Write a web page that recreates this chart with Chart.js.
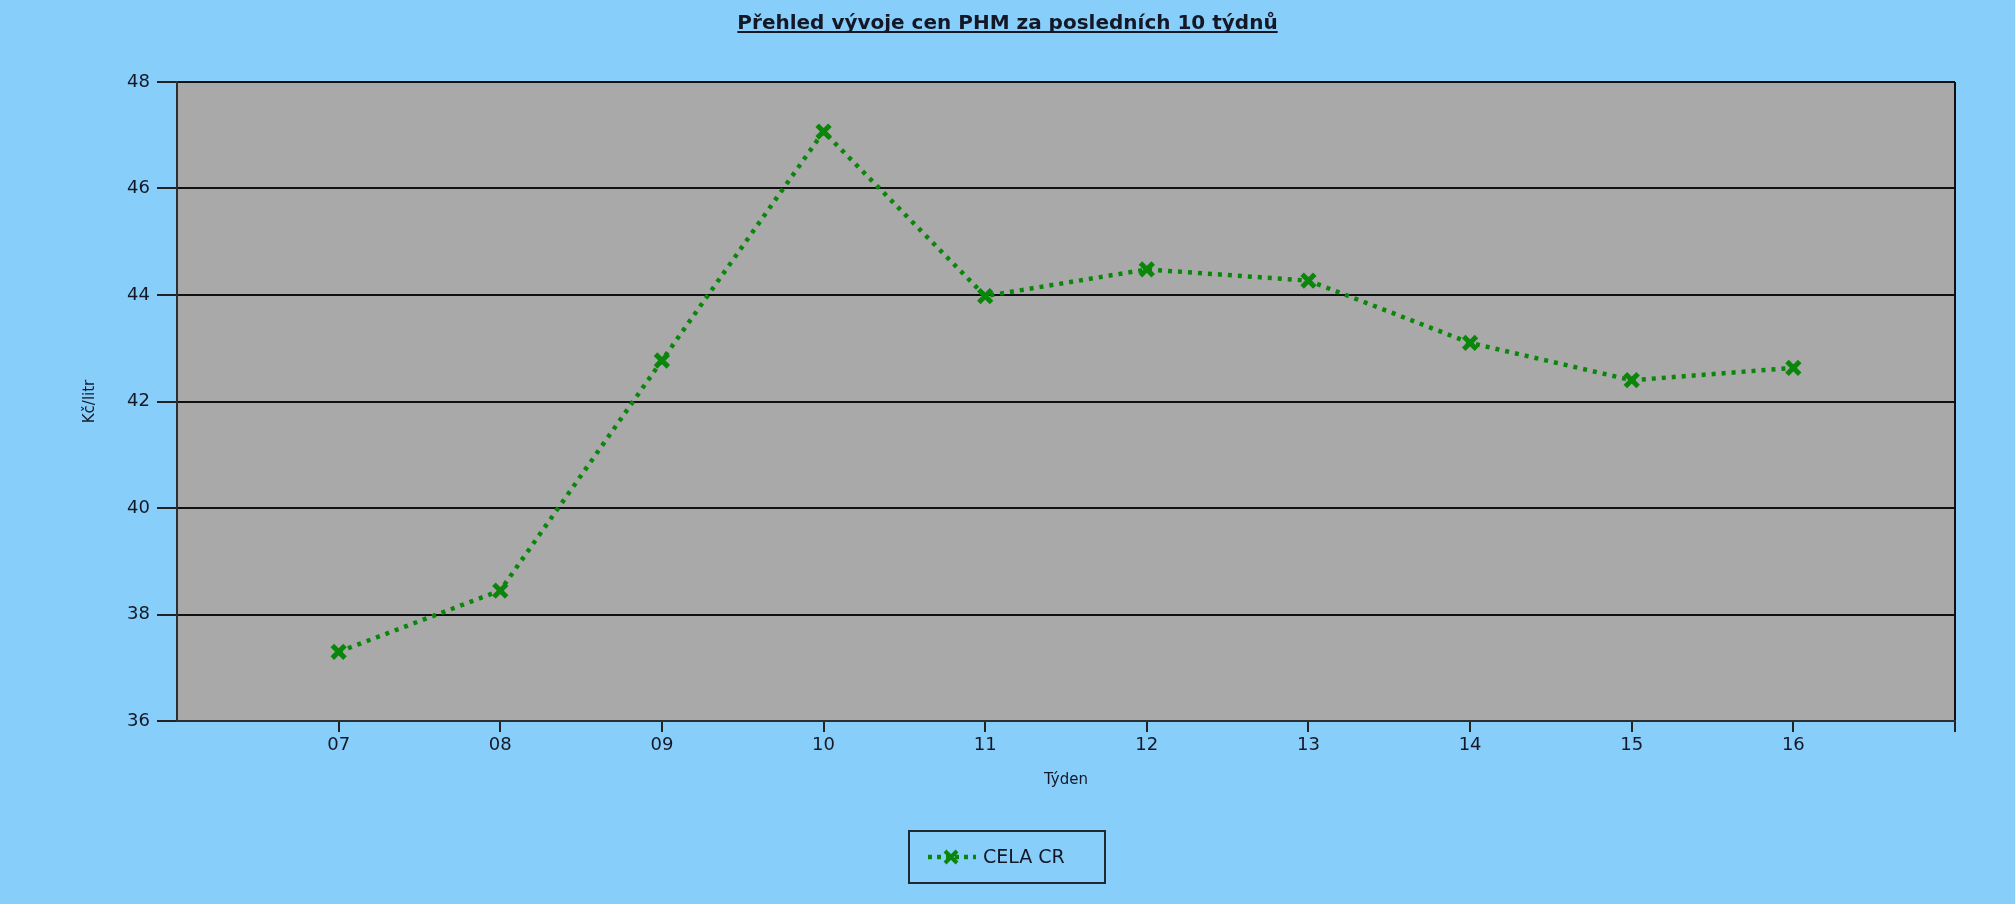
<!DOCTYPE html>
<html>
<head>
<meta charset="utf-8">
<script src="https://cdn.jsdelivr.net/npm/chart.js@4.4.1/dist/chart.umd.min.js"></script>
<style>
  html, body { margin: 0; padding: 0; background: #87cefa; }
  #wrap { width: 2015px; height: 904px; position: relative; }
</style>
</head>
<body>
<div id="wrap"><canvas id="fuelChart" width="2015" height="904"></canvas></div>
<script>
// weekly fuel prices, whole country
const chartTitle = "Přehled vývoje cen PHM za posledních 10 týdnů";
const weeks = ["07", "08", "09", "10", "11", "12", "13", "14", "15", "16"];
const prices = [37.30, 38.45, 42.77, 47.07, 43.98, 44.48, 44.27, 43.10, 42.40, 42.63];
const seriesName = "CELA CR";
const yTicks = [36, 38, 40, 42, 44, 46, 48];
const xLabel = "Týden";
const yLabel = "Kč/litr";

const GREEN = "#0a870a";
const TEXT = "#141826";
const FONT = "'DejaVu Sans', sans-serif";

const points = weeks.map(function (w, i) {
    return { x: Number(w), y: prices[i] };
});
const xMin = Number(weeks[0]) - 1;
const xMax = Number(weeks[weeks.length - 1]) + 1;

const decorPlugin = {
    id: "decor",
    beforeDraw: function (chart) {
        const ctx = chart.ctx;
        const a = chart.chartArea;
        ctx.save();
        ctx.fillStyle = "#a9a9a9";
        ctx.fillRect(a.left, a.top, a.right - a.left, a.bottom - a.top);
        ctx.restore();
    },
    afterDraw: function (chart) {
        const ctx = chart.ctx;
        const a = chart.chartArea;
        ctx.save();

        // title, bold + underlined
        ctx.fillStyle = TEXT;
        ctx.font = "bold 20px " + FONT;
        ctx.textAlign = "center";
        ctx.textBaseline = "alphabetic";
        const cx = chart.width / 2;
        ctx.fillText(chartTitle, cx, 29);
        const tw = ctx.measureText(chartTitle).width;
        ctx.fillRect(cx - tw / 2, 31, tw, 2);

        // axis titles
        ctx.font = "15px " + FONT;
        ctx.textBaseline = "middle";
        ctx.fillText(xLabel, (a.left + a.right) / 2, 780);
        ctx.save();
        ctx.translate(90, (a.top + a.bottom) / 2);
        ctx.rotate(-Math.PI / 2);
        ctx.fillText(yLabel, 0, 0);
        ctx.restore();

        // legend box
        const lx = 909, ly = 831, lw = 196, lh = 52;
        ctx.strokeStyle = "#1e2a33";
        ctx.lineWidth = 2;
        ctx.strokeRect(lx, ly, lw, lh);
        const my = ly + lh / 2;
        ctx.strokeStyle = GREEN;
        ctx.lineWidth = 4.5;
        ctx.setLineDash([4, 5]);
        ctx.beginPath();
        ctx.moveTo(928, my);
        ctx.lineTo(976, my);
        ctx.stroke();
        ctx.setLineDash([]);
        ctx.lineWidth = 4;
        const r = 6;
        ctx.beginPath();
        ctx.moveTo(951 - r, my - r); ctx.lineTo(951 + r, my + r);
        ctx.moveTo(951 - r, my + r); ctx.lineTo(951 + r, my - r);
        ctx.stroke();
        ctx.fillStyle = TEXT;
        ctx.font = "19px " + FONT;
        ctx.textAlign = "left";
        ctx.fillText(seriesName, 983, my + 1);

        ctx.restore();
    }
};

const ctx = document.getElementById("fuelChart").getContext("2d");
const chart = new Chart(ctx, {
    type: "line",
    data: {
        datasets: [{
            label: seriesName,
            data: points,
            borderColor: GREEN,
            borderWidth: 4.5,
            borderDash: [4, 6],
            borderCapStyle: "butt",
            fill: false,
            tension: 0,
            pointStyle: "crossRot",
            pointRadius: 9,
            pointBorderWidth: 5,
            pointBorderColor: GREEN,
            pointBackgroundColor: GREEN,
            pointHoverRadius: 9
        }]
    },
    options: {
        responsive: false,
        animation: false,
        layout: { padding: { left: 0, top: 82, right: 60, bottom: 0 } },
        plugins: {
            legend: { display: false },
            title: { display: false },
            tooltip: { enabled: false }
        },
        scales: {
            x: {
                type: "linear",
                min: xMin,
                max: xMax,
                afterFit: function (s) { s.height = 183; },
                afterBuildTicks: function (s) {
                    const t = [];
                    for (let v = xMin; v <= xMax; v++) t.push({ value: v });
                    s.ticks = t;
                },
                ticks: {
                    autoSkip: false,
                    maxRotation: 0,
                    padding: 3,
                    color: TEXT,
                    font: { family: FONT, size: 18 },
                    callback: function (v) {
                        const idx = weeks.indexOf(String(v).padStart(2, "0"));
                        return idx >= 0 ? weeks[idx] : "";
                    }
                },
                grid: {
                    drawOnChartArea: true,
                    tickLength: 11,
                    lineWidth: 2,
                    color: function (c) {
                        return c.tick && c.tick.value === xMax ? "#111" : "rgba(0,0,0,0)";
                    },
                    tickColor: function (c) {
                        return c.tick && c.tick.value === xMin ? "rgba(0,0,0,0)" : "#222";
                    }
                },
                border: { display: true, color: "#2a2f33", width: 2 }
            },
            y: {
                min: yTicks[0],
                max: yTicks[yTicks.length - 1],
                afterFit: function (s) { s.width = 177; },
                afterBuildTicks: function (s) {
                    s.ticks = yTicks.map(function (v) { return { value: v }; });
                },
                ticks: {
                    padding: 7,
                    color: TEXT,
                    font: { family: FONT, size: 18 }
                },
                grid: {
                    color: "#111",
                    lineWidth: 2,
                    tickLength: 20,
                    tickColor: "#222"
                },
                border: { display: true, color: "#2a2f33", width: 2 }
            }
        }
    },
    plugins: [decorPlugin]
});
</script>
</body>
</html>
